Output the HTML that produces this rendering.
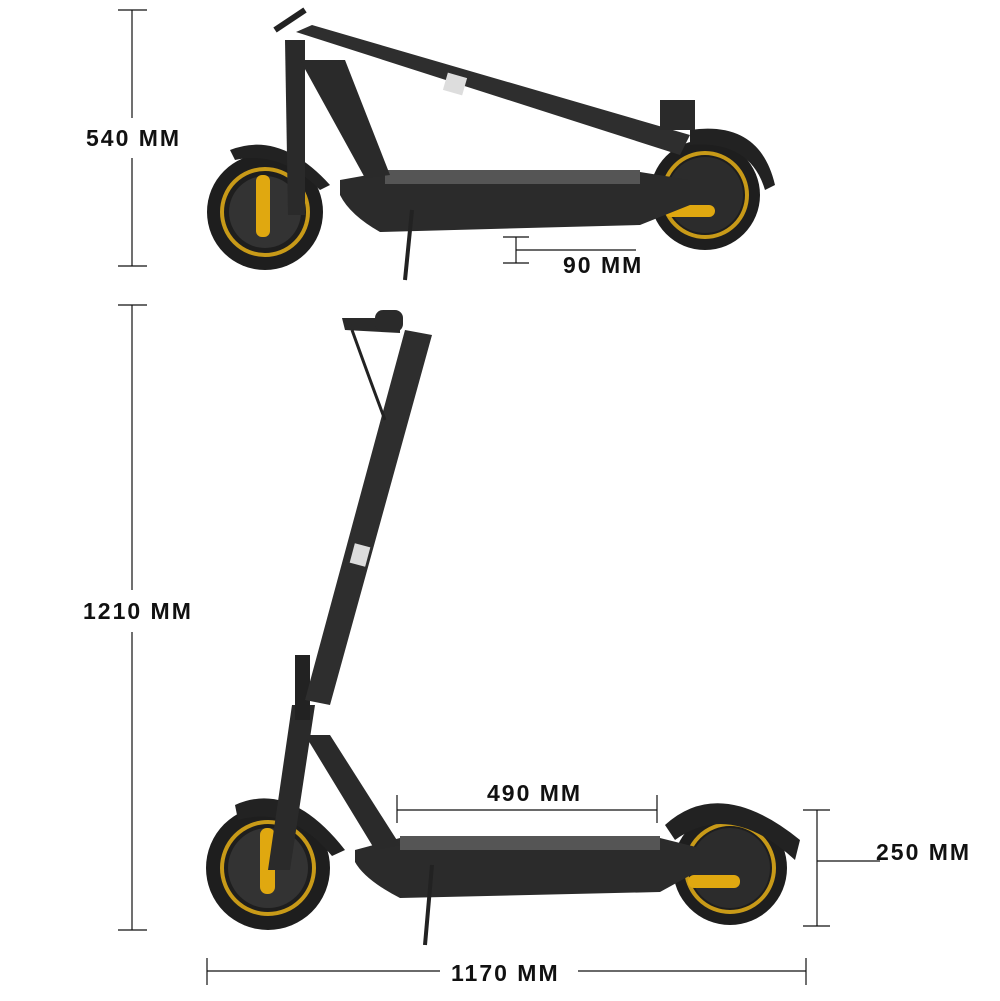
<!DOCTYPE html>
<html><head><meta charset="utf-8"><style>
html,body{margin:0;padding:0;background:#fff;width:1000px;height:1001px;overflow:hidden}
svg{display:block}
text{font-family:"Liberation Sans",sans-serif;font-weight:bold;font-size:23px;letter-spacing:2px;fill:#111}
</style></head><body>
<svg width="1000" height="1001" viewBox="0 0 1000 1001">
<g stroke="#111" stroke-width="1.2" fill="none">
<line x1="132" y1="10" x2="132" y2="118"/><line x1="132" y1="158" x2="132" y2="266"/>
<line x1="118" y1="10" x2="147" y2="10"/><line x1="118" y1="266" x2="147" y2="266"/>
<line x1="503" y1="237" x2="529" y2="237"/><line x1="503" y1="263" x2="529" y2="263"/><line x1="516" y1="237" x2="516" y2="263"/>
<line x1="516" y1="250" x2="636" y2="250"/>
<line x1="132" y1="305" x2="132" y2="590"/><line x1="132" y1="632" x2="132" y2="930"/>
<line x1="118" y1="305" x2="147" y2="305"/><line x1="118" y1="930" x2="147" y2="930"/>
<line x1="397" y1="795" x2="397" y2="823"/><line x1="657" y1="795" x2="657" y2="823"/><line x1="397" y1="810" x2="657" y2="810"/>
<line x1="803" y1="810" x2="830" y2="810"/><line x1="803" y1="926" x2="830" y2="926"/><line x1="817" y1="810" x2="817" y2="926"/>
<line x1="817" y1="861" x2="880" y2="861"/>
<line x1="207" y1="958" x2="207" y2="985"/><line x1="806" y1="958" x2="806" y2="985"/>
<line x1="207" y1="971" x2="440" y2="971"/><line x1="578" y1="971" x2="806" y2="971"/>
</g>
<text x="86" y="146">540 MM</text>
<text x="563" y="273">90 MM</text>
<text x="83" y="619">1210 MM</text>
<text x="487" y="801">490 MM</text>
<text x="876" y="860">250 MM</text>
<text x="451" y="981">1170 MM</text>

<g>
<circle cx="265" cy="212" r="58" fill="#1e1e1e"/><circle cx="265" cy="212" r="43" fill="none" stroke="#c89a18" stroke-width="4"/><circle cx="265" cy="212" r="36" fill="#333"/>
<rect x="256" y="175" width="14" height="62" rx="6" fill="#e0a810"/>
<circle cx="705" cy="195" r="55" fill="#1e1e1e"/><circle cx="705" cy="195" r="42" fill="none" stroke="#c89a18" stroke-width="4"/><circle cx="705" cy="195" r="38" fill="#2c2c2c"/>
<rect x="665" y="205" width="50" height="12" rx="6" fill="#e0a810"/>
<path d="M690 130 Q760 120 775 185 L765 190 Q750 140 690 145 Z" fill="#222"/>
<path d="M230 150 Q280 130 330 185 L320 190 Q280 150 235 160 Z" fill="#222"/>
<path d="M340 180 L385 172 L640 172 L690 180 L690 205 L640 225 L380 232 Q350 215 340 195 Z" fill="#2b2b2b"/>
<rect x="385" y="170" width="255" height="14" fill="#555"/>
<path d="M285 40 L305 40 L305 215 L288 215 Z" fill="#2a2a2a"/>
<path d="M300 60 L345 60 L390 175 L365 178 Z" fill="#2a2a2a"/>
<path d="M296 32 L312 25 L690 135 L680 155 Z" fill="#2e2e2e"/>
<rect x="445" y="75" width="20" height="18" fill="#ddd" transform="rotate(16 455 84)"/>
<rect x="660" y="100" width="35" height="30" fill="#2a2a2a"/>
<line x1="275" y1="30" x2="305" y2="10" stroke="#222" stroke-width="6"/>
<line x1="412" y1="210" x2="405" y2="280" stroke="#222" stroke-width="4"/>
</g>

<g>
<circle cx="268" cy="868" r="62" fill="#1e1e1e"/><circle cx="268" cy="868" r="46" fill="none" stroke="#c89a18" stroke-width="4"/><circle cx="268" cy="868" r="40" fill="#333"/>
<rect x="260" y="828" width="15" height="66" rx="7" fill="#e0a810"/>
<circle cx="730" cy="868" r="57" fill="#1e1e1e"/><circle cx="730" cy="868" r="44" fill="none" stroke="#c89a18" stroke-width="4"/><circle cx="730" cy="868" r="40" fill="#2c2c2c"/>
<rect x="688" y="875" width="52" height="13" rx="6" fill="#e0a810"/>
<path d="M665 825 Q720 775 800 840 L795 860 Q730 800 675 840 Z" fill="#222"/>
<path d="M235 805 Q290 780 345 850 L332 856 Q290 805 238 820 Z" fill="#222"/>
<path d="M355 850 L400 838 L660 838 L700 848 L700 870 L660 892 L400 898 Q365 880 355 862 Z" fill="#2b2b2b"/>
<rect x="400" y="836" width="260" height="14" fill="#555"/>
<path d="M292 705 L315 705 L290 870 L268 870 Z" fill="#2a2a2a"/>
<path d="M305 735 L330 735 L400 845 L375 850 Z" fill="#2a2a2a"/>
<path d="M295 655 L310 655 L310 720 L295 720 Z" fill="#222"/>
<path d="M405 330 L432 335 L330 705 L305 700 Z" fill="#2e2e2e"/>
<rect x="352" y="545" width="16" height="20" fill="#ddd" transform="rotate(15 360 555)"/>
<path d="M342 318 L400 318 L400 333 L345 330 Z" fill="#2a2a2a"/>
<rect x="375" y="310" width="28" height="22" rx="8" fill="#2a2a2a"/>
<path d="M352 330 Q370 380 385 420" stroke="#222" stroke-width="3" fill="none"/>
<line x1="432" y1="865" x2="425" y2="945" stroke="#222" stroke-width="4"/>
</g>
</svg>
</body></html>
